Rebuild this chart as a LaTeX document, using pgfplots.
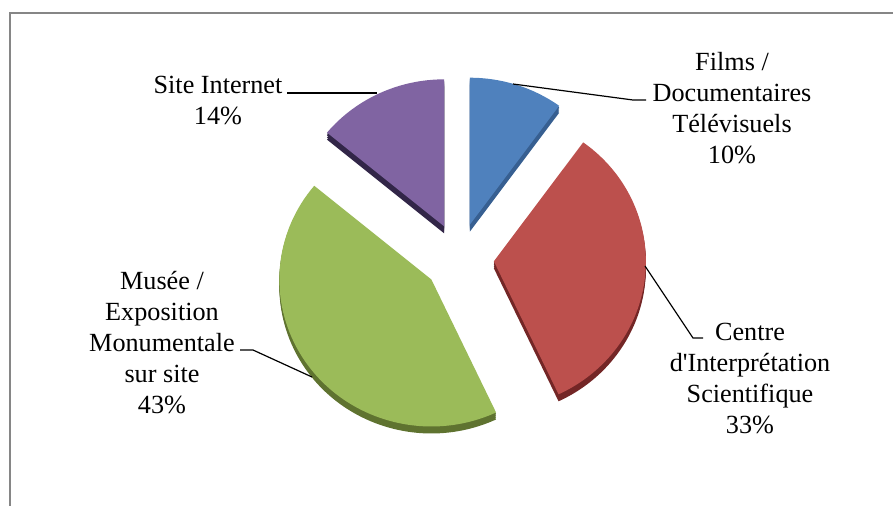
\documentclass[border=0pt]{standalone}
\usepackage{pgfplots}
\pgfplotsset{compat=1.18}
\usepackage{pgfplotstable}
\usepackage{fontspec}
\setmainfont{Liberation Serif}
\newfontfamily\plainserif{Liberation Serif}
\definecolor{sblue}{RGB}{79,129,189}
\definecolor{sred}{RGB}{188,80,77}
\definecolor{sgreen}{RGB}{155,187,89}
\definecolor{spurple}{RGB}{128,100,162}
\definecolor{dblue}{RGB}{55,95,145}
\definecolor{dred}{RGB}{115,38,38}
\definecolor{dgreen}{RGB}{95,115,48}
\definecolor{dpurple}{RGB}{50,38,72}
\definecolor{framegray}{RGB}{134,134,134}

\pgfplotstableread[col sep=comma]{
label,value
Films,10
Centre,33
Musee,43
Site,14
}\piedata

\pgfplotstablegetelem{0}{value}\of\piedata \let\vA\pgfplotsretval
\pgfplotstablegetelem{1}{value}\of\piedata \let\vB\pgfplotsretval
\pgfplotstablegetelem{2}{value}\of\piedata \let\vC\pgfplotsretval
\pgfplotstablegetelem{3}{value}\of\piedata \let\vD\pgfplotsretval
\pgfmathsetmacro\aA{90}
\pgfmathsetmacro\aB{\aA-3.6*\vA}
\pgfmathsetmacro\aC{\aB-3.6*\vB}
\pgfmathsetmacro\aD{\aC-3.6*\vC}
\pgfmathsetmacro\aE{\aD-3.6*\vD}

% geometry in pixel units (y downward)
\def\cx{459}\def\cy{258}\def\ex{35}\def\rx{152}\def\ry{147}
\def\rxbp{76bp}\def\rybp{73.5bp}

\newcommand\slice[4]{%
 \pgfmathsetmacro\mid{(#1+#2)/2}%
 \pgfmathsetmacro\ox{\cx+\ex*cos(\mid)}%
 \pgfmathsetmacro\oy{\cy-\ex*sin(\mid)}%
 \pgfmathsetmacro\sx{\ox+\rx*cos(#1)}%
 \pgfmathsetmacro\sy{\oy-\ry*sin(#1)}%
 \foreach \d in {7,5,3,1.5}{%
  \fill[#4] (axis cs:\ox,\oy+\d) -- (axis cs:\sx,\sy+\d) arc[start angle=#1,end angle=#2,x radius=\rxbp,y radius=\rybp] -- cycle;}%
 \fill[#3] (axis cs:\ox,\oy) -- (axis cs:\sx,\sy) arc[start angle=#1,end angle=#2,x radius=\rxbp,y radius=\rybp] -- cycle;%
}

\begin{document}
\begin{tikzpicture}
\begin{axis}[name=ax, at={(0,0)}, anchor=south west,
  width=446.5bp, height=253bp, scale only axis,
  xmin=0, xmax=893, ymin=0, ymax=506, y dir=reverse,
  hide axis, clip=false]
\pgfplotsextra{%
 \draw[framegray, line width=1bp] (axis cs:10,520) -- (axis cs:10,13) -- (axis cs:905,13);
 \slice{\aA}{\aB}{sblue}{dblue}
 \slice{\aB}{\aC}{sred}{dred}
 \slice{\aC}{\aD}{sgreen}{dgreen}
 \slice{\aD}{\aE}{spurple}{dpurple}
 \draw[black, line width=0.6bp] (axis cs:513,84) -- (axis cs:633,100) -- (axis cs:646,100);
 \draw[black, line width=0.6bp] (axis cs:377,93) -- (axis cs:287,93);
 \draw[black, line width=0.6bp] (axis cs:312,377) -- (axis cs:253,350) -- (axis cs:240,350);
 \draw[black, line width=0.6bp] (axis cs:645,266) -- (axis cs:693,338) -- (axis cs:703,338);
 \begin{scope}[every node/.style={align=center, inner sep=0pt, font=\plainserif\fontsize{13.1bp}{15.5bp}\selectfont}]
 \node at (axis cs:732,108) {Films /\\Documentaires\\Télévisuels\\10\%};
 \node at (axis cs:218,100) {Site Internet\\14\%};
 \node at (axis cs:162,343) {Musée /\\Exposition\\Monumentale\\sur site\\43\%};
 \node at (axis cs:750,378) {Centre\\d'Interprétation\\Scientifique\\33\%};
 \end{scope}
}
\end{axis}
\pgfresetboundingbox
\path[use as bounding box] (ax.south west) rectangle (ax.north east);
\end{tikzpicture}
\end{document}
